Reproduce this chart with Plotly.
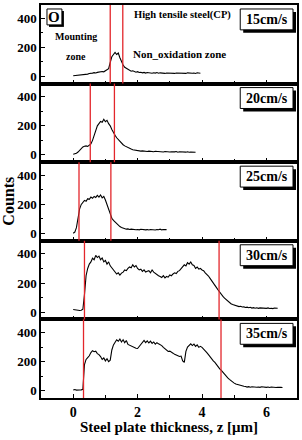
import numpy as np
import plotly.graph_objects as go
from plotly.subplots import make_subplots

# ---------------- data ----------------
Z_STEP = 0.05  # depth sampling of the traces, µm

speeds = ["15cm/s", "20cm/s", "25cm/s", "30cm/s", "35cm/s"]

counts_15 = [4, 5, 3, 6, 5, 7, 8, 10, 14, 15, 19, 18, 22, 25, 23, 27, 30, 28, 33, 31,
             38, 45, 52, 95, 135, 150, 165, 150, 160, 128, 95, 78, 62, 55, 45, 42, 35, 38, 30, 28,
             32, 26, 28, 24, 27, 22, 26, 23, 25, 21, 24, 22, 26, 21, 24, 22, 25, 20, 23, 22,
             25, 21, 24, 20, 23, 22, 25, 21, 24, 22, 20, 24, 22, 25, 21, 23, 20, 24, 22, 21]

counts_20 = [5, 8, 12, 20, 32, 45, 55, 60, 62, 58, 64, 75, 100, 135, 170, 200, 215, 230, 225, 245,
             228, 238, 215, 200, 175, 150, 135, 118, 105, 92, 80, 70, 62, 55, 50, 43, 40, 35, 33, 30,
             28, 30, 26, 28, 25, 27, 24, 26, 23, 25, 22, 25, 23, 21, 24, 22, 20, 23, 21, 24,
             20, 22, 19, 21, 23, 19, 22, 20, 18, 21, 19, 22, 18, 20, 19, 21, 18]

counts_25 = [2, 10, 40, 110, 170, 200, 215, 228, 222, 240, 235, 250, 242, 255, 248, 262, 250, 265, 245, 255,
             230, 195, 160, 125, 105, 90, 78, 65, 55, 48, 42, 38, 33, 30, 32, 28, 30, 27, 29, 26,
             28, 25, 29, 26, 28, 25, 27, 24, 28, 25, 27, 24, 28, 26, 30, 25, 28, 26, 27]

counts_30 = [18, 15, 12, 14, 11, 13, 20, 120, 250, 300, 330, 345, 370, 360, 390, 375, 385, 360, 372, 345,
             355, 330, 345, 318, 305, 292, 280, 262, 270, 255, 268, 275, 290, 285, 300, 310, 305, 325, 310, 320,
             300, 290, 295, 280, 290, 275, 280, 285, 270, 290, 275, 265, 258, 250, 245, 238, 250, 235, 245, 240,
             255, 250, 262, 270, 265, 280, 285, 300, 310, 325, 318, 340, 330, 345, 325, 320, 300, 310, 295, 300,
             290, 285, 270, 262, 248, 232, 218, 200, 185, 168, 152, 135, 120, 108, 96, 85, 74, 65, 58, 52,
             48, 45, 42, 38, 40, 35, 36, 32, 34, 30, 33, 28, 31, 27, 30, 26, 29, 27, 25, 28,
             26, 29, 25, 27, 24, 28, 26, 27]

counts_35 = [5, 8, 4, 7, 5, 6, 10, 180, 215, 228, 240, 262, 275, 268, 272, 255, 248, 235, 215, 225,
             205, 220, 200, 210, 280, 315, 335, 350, 340, 355, 335, 350, 330, 345, 318, 312, 305, 300, 298, 292,
             290, 305, 320, 335, 345, 330, 342, 328, 340, 325, 335, 320, 330, 322, 318, 310, 298, 290, 282, 270,
             272, 262, 258, 250, 245, 240, 235, 238, 205, 195, 270, 300, 315, 322, 310, 320, 305, 315, 298, 305,
             298, 288, 278, 262, 248, 232, 220, 205, 195, 178, 165, 150, 140, 125, 112, 100, 88, 78, 68, 60,
             52, 46, 42, 40, 36, 35, 31, 29, 25, 28, 24, 27, 25, 28, 24, 26, 23, 27, 24, 26,
             23, 25, 22, 26, 23, 25, 22, 24, 21, 23, 22]

series = [counts_15, counts_20, counts_25, counts_30, counts_35]

# zone boundaries (red lines), µm
red_lines = [[1.15, 1.54], [0.53, 1.28], [0.18, 1.17], [0.35, 4.53], [0.32, 4.59]]

x_ticks = [0, 2, 4, 6]
y_ticks = [0, 200, 400]

# ---------------- figure ----------------
W, H = 302, 440
ML, MR, MT, MB = 41, 4, 3, 42
PW, PH = W - ML - MR, H - MT - MB
panel_h = PH / 5.0

fig = make_subplots(rows=5, cols=1, shared_xaxes=True, vertical_spacing=0)

for i, c in enumerate(series):
    z = np.round(np.arange(len(c)) * Z_STEP, 3)
    fig.add_trace(go.Scatter(x=z, y=c, mode="lines",
                             line=dict(color="black", width=1.1), showlegend=False),
                  row=i + 1, col=1)

serif = "Liberation Serif"
tickfont = dict(family=serif, size=13, color="black", weight=700)

fig.update_xaxes(range=[-1, 6.95], tickvals=x_ticks, ticks="inside", ticklen=4, tickwidth=1.2,
                 tickcolor="black",
                 minor=dict(ticks="inside", dtick=1, tick0=0, ticklen=3, tickwidth=1, tickcolor="black"),
                 showline=True, mirror=True, linecolor="black", linewidth=1.5,
                 showgrid=False, zeroline=False, tickfont=dict(tickfont, size=14))
fig.update_yaxes(range=[-50, 490], tickvals=y_ticks, ticks="inside", ticklen=4, tickwidth=1.2,
                 tickcolor="black",
                 minor=dict(ticks="inside", dtick=100, tick0=0, ticklen=2, tickwidth=1, tickcolor="black"),
                 showline=True, mirror=True, linecolor="black", linewidth=1.5,
                 showgrid=False, zeroline=False, tickfont=tickfont)

shapes = []
annotations = []


def px_x(p):
    return (p - ML) / PW


for i in range(5):
    yd = f"y{'' if i == 0 else i + 1} domain"
    xr = f"x{'' if i == 0 else i + 1}"
    for v in red_lines[i]:
        shapes.append(dict(type="line", xref=xr, yref=yd, x0=v, x1=v, y0=0, y1=1,
                           line=dict(color="#e3262b", width=1.3)))
    # speed label box with drop shadow
    top, bot = 4, 25
    shapes.append(dict(type="rect", xref="paper", yref=yd,
                       x0=px_x(244), x1=px_x(297), y0=1 - (bot + 3) / panel_h, y1=1 - (top + 3) / panel_h,
                       fillcolor="black", line=dict(width=0)))
    shapes.append(dict(type="rect", xref="paper", yref=yd,
                       x0=px_x(241), x1=px_x(294), y0=1 - bot / panel_h, y1=1 - top / panel_h,
                       fillcolor="white", line=dict(color="black", width=1)))
    annotations.append(dict(text=speeds[i], xref="paper", yref=yd, x=px_x(267.5),
                            y=1 - (top + bot) / 2 / panel_h, showarrow=False,
                            xanchor="center", yanchor="middle",
                            font=dict(family=serif, size=14, color="black", weight=700)))

# "O" box on the first panel
shapes.append(dict(type="rect", xref="paper", yref="y domain",
                   x0=px_x(49), x1=px_x(64), y0=1 - 22 / panel_h, y1=1 - 6 / panel_h,
                   fillcolor="black", line=dict(width=0)))
shapes.append(dict(type="rect", xref="paper", yref="y domain",
                   x0=px_x(47), x1=px_x(62), y0=1 - 20 / panel_h, y1=1 - 4 / panel_h,
                   fillcolor="white", line=dict(color="black", width=1)))
annotations.append(dict(text="O", xref="paper", yref="y domain", x=px_x(54.5), y=1 - 12 / panel_h,
                        showarrow=False, xanchor="center", yanchor="middle",
                        font=dict(family=serif, size=15, color="black", weight=700)))

small = dict(family=serif, color="black", weight=700)
for txt, cx, cy, sz in [("High tensile steel(CP)", 183, 10, 10.5),
                        ("Mounting", 76.5, 32, 10),
                        ("zone", 76, 52, 10),
                        ("Non_oxidation zone", 180, 49, 11)]:
    annotations.append(dict(text=txt, xref="paper", yref="y domain", x=px_x(cx), y=1 - cy / panel_h,
                            showarrow=False, xanchor="center", yanchor="middle",
                            font=dict(small, size=sz)))

# axis titles
annotations.append(dict(text="Steel plate thickness, z [μm]", xref="paper", yref="paper",
                        x=0.5, y=-(427 - (H - MB)) / PH, showarrow=False,
                        xanchor="center", yanchor="middle",
                        font=dict(family=serif, size=15, color="black", weight=700)))
annotations.append(dict(text="Counts", xref="paper", yref="paper", textangle=-90,
                        x=px_x(8), y=0.5, showarrow=False, xanchor="center", yanchor="middle",
                        font=dict(family=serif, size=16, color="black", weight=700)))

fig.update_layout(width=W, height=H, margin=dict(l=ML, r=MR, t=MT, b=MB),
                  plot_bgcolor="white", paper_bgcolor="white",
                  shapes=shapes, annotations=annotations, showlegend=False)

fig.write_html("out.html")
